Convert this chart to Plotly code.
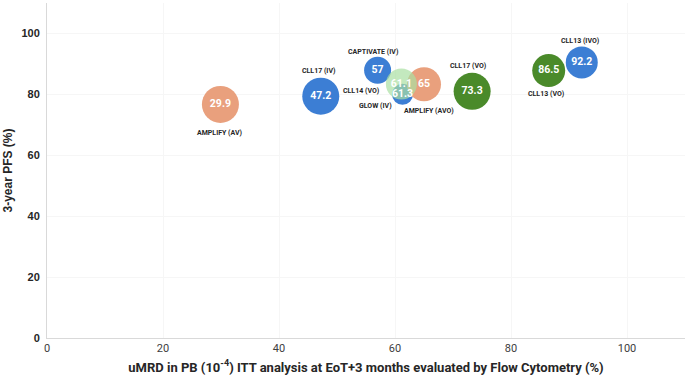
import plotly.graph_objects as go

# Data (draw order)
trials = ["AMPLIFY (AV)", "CLL17 (IV)", "CAPTIVATE (IV)", "GLOW (IV)", "AMPLIFY (AVO)",
          "CLL14 (VO)", "CLL17 (VO)", "CLL13 (VO)", "CLL13 (IVO)"]
umrd = [29.9, 47.2, 57, 61.3, 65, 61.1, 73.3, 86.5, 92.2]
pfs = [76.7, 79.4, 87.9, 80.0, 83.3, 83.4, 81.0, 87.8, 90.5]
bubble = [37, 37, 27, 21, 34, 31, 37, 33, 32]
value_labels = ["29.9", "47.2", "57", "61.3", "65", "61.1", "73.3", "86.5", "92.2"]

# Styles
colors = ["#E9A07D", "#3C7ED4", "#3C7ED4", "#3C7ED4", "#E9A07D",
          "#A9DFA2", "#4A8A2A", "#4A8A2A", "#3C7ED4"]
opac = [1, 1, 1, 1, 1, 0.7, 1, 1, 1]
label_shift = [(0, -29), (-2, 25), (-4, 18), (-27, -12), (5, -27),
               (-40, -7), (-4, 25), (-2, -23), (-1, 21)]

fig = go.Figure()
fig.add_trace(go.Scatter(
    x=umrd, y=pfs, mode="markers",
    marker=dict(size=bubble, sizemode="diameter", color=colors, opacity=opac,
                line=dict(width=0)),
    hoverinfo="skip", showlegend=False))
fig.add_trace(go.Scatter(
    x=umrd, y=pfs, mode="text", text=value_labels,
    textfont=dict(family="Roboto", size=10.5, color="white", weight="bold"),
    textposition="middle center", hoverinfo="skip", showlegend=False))

for t, x, y, (dx, dy) in zip(trials, umrd, pfs, label_shift):
    fig.add_annotation(x=x, y=y, text="<b>%s</b>" % t, showarrow=False,
                       xshift=dx, yshift=dy,
                       font=dict(family="Roboto", size=7, color="#262626"))

fig.update_layout(
    width=685, height=381,
    margin=dict(l=47, r=0, t=3, b=43),
    paper_bgcolor="white", plot_bgcolor="white",
    xaxis=dict(range=[0, 110], tickvals=[0, 20, 40, 60, 80, 100],
               showgrid=True, gridcolor="#F6F6F6", zeroline=False,
               showline=True, linecolor="#D9D9D9", linewidth=1,
               tickfont=dict(family="Roboto", size=11, color="#404040"),
               ticks="", title=dict(
                   text="<b>uMRD in PB (10<sup>-4</sup>) ITT analysis at EoT+3 months evaluated by Flow Cytometry (%)</b>",
                   font=dict(family="Roboto", size=13, color="#262626"),
                   standoff=8)),
    yaxis=dict(range=[0, 110], tickvals=[0, 20, 40, 60, 80, 100],
               showgrid=True, gridcolor="#F6F6F6", zeroline=False,
               showline=True, linecolor="#D9D9D9", linewidth=1,
               tickfont=dict(family="Liberation Sans", size=11, color="#262626", weight="bold"),
               ticks="", ticklabelstandoff=4,
               title=dict(text="<b>3-year PFS (%)</b>",
                          font=dict(family="Liberation Sans", size=12, color="#262626"),
                          standoff=6)),
)

fig.write_html("out.html")
